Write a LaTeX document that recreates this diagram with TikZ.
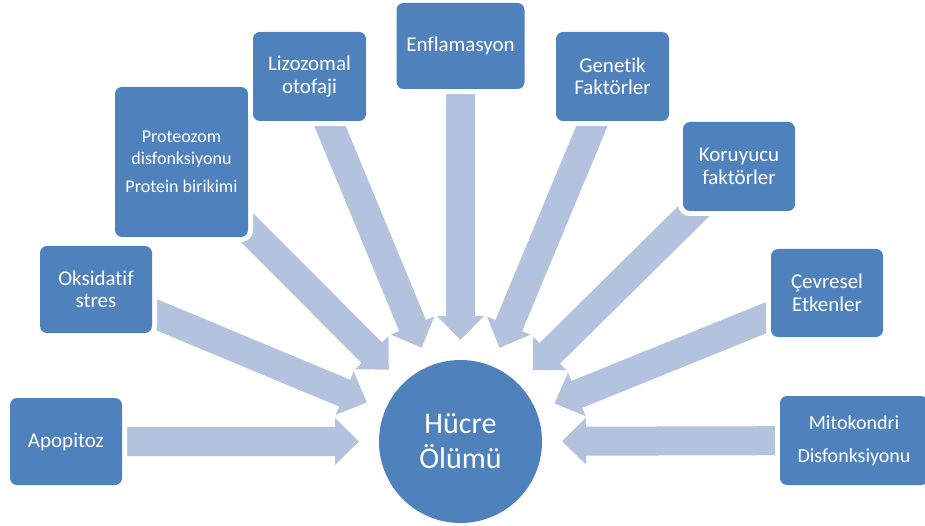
\documentclass[tikz,border=0pt]{standalone}
\usepackage{fontspec}
\setmainfont[Ligatures=NoCommon]{Carlito}
\usetikzlibrary{calc,backgrounds}
\definecolor{boxblue}{HTML}{4F81BD}
\definecolor{flowblue}{HTML}{B3C3DE}

% wide arrow from the centre of box #1 towards the centre of node #2
\newcommand{\blockarrow}[2]{%
  \path ($(#2.center)!101.5pt!(#1.center)$) coordinate (tip)
        ($(#2.center)!125.5pt!(#1.center)$) coordinate (hb);
  \fill[flow] ($(#1.center)!14.5pt!-90:(#2.center)$) -- ($(hb)!14.5pt!-90:(#2.center)$)
    -- ($(hb)!23.5pt!-90:(#2.center)$) -- (tip) -- ($(hb)!23.5pt!90:(#2.center)$)
    -- ($(hb)!14.5pt!90:(#2.center)$) -- ($(#1.center)!14.5pt!90:(#2.center)$) -- cycle;
}

\begin{document}
\begin{tikzpicture}
	[x=1pt,y=-1pt,every node/.style={text=white,align=center,inner sep=0pt}]
	\tikzstyle{box} = [fill=boxblue, rounded corners=7pt, preaction={draw=white, line width=10pt}, font=\fontsize{21}{22.5}\selectfont]
	\tikzstyle{flow} = [fill=flowblue];
	
	\useasboundingbox (0,0) rectangle (925,526);
	
	\node[box,minimum width=112pt,minimum height=87pt] (apop) at (66,441.5) {Apopitoz};
	\node[box,minimum width=112pt,minimum height=87pt] (oksi) at (96,289.5) {Oksidatif\\stres};
	\node[box,minimum width=133pt,minimum height=150pt,font=\fontsize{18}{21.5}\selectfont] (prot) at (181.5,162) {Proteozom\\disfonksiyonu\\[7pt]Protein birikimi};
	\node[box,minimum width=113pt,minimum height=89pt] (lizo) at (309.5,76.5) {Lizozomal\\otofaji};
	\node[box,minimum width=128pt,minimum height=86pt] (enfl) at (460.5,46) {Enflamasyon};
	\node[box,minimum width=113pt,minimum height=89pt] (gene) at (612.5,76.5) {Genetik\\Faktörler};
	\node[box,minimum width=112pt,minimum height=89pt] (koru) at (739,166.5) {Koruyucu\\faktörler};
	\node[box,minimum width=112pt,minimum height=88pt] (cevr) at (827,293) {Çevresel\\Etkenler};
	\node[box,minimum width=148pt,minimum height=89pt,font=\fontsize{20}{22}\selectfont] (mito) at (854,440.5) {Mitokondri\\[11pt]Disfonksiyonu};
	
	\node[circle,fill=boxblue,minimum size=163pt,font=\fontsize{30}{35}\selectfont] (hc) at (460.5,441.5) {Hücre\\Ölümü};
	
	\begin{scope}[on background layer]
	\blockarrow{apop}{hc}
	\blockarrow{oksi}{hc}
	\blockarrow{prot}{hc}
	\blockarrow{lizo}{hc}
	\blockarrow{enfl}{hc}
	\blockarrow{gene}{hc}
	\blockarrow{koru}{hc}
	\blockarrow{cevr}{hc}
	\blockarrow{mito}{hc}
	\end{scope}
\end{tikzpicture}
\end{document}
